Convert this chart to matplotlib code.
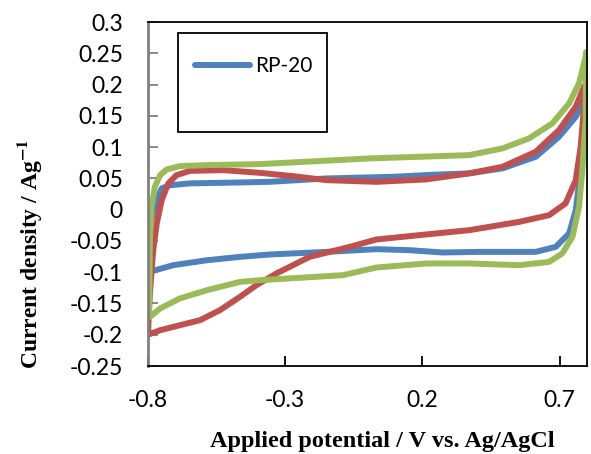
import numpy as np
import matplotlib.pyplot as plt
from matplotlib.lines import Line2D
from matplotlib.patches import Rectangle

# CV loops: anodic sweep then cathodic sweep back
rp20_v = [-0.80, -0.797, -0.79, -0.775, -0.763, -0.75, -0.72, -0.647, -0.465, -0.356, -0.15, 0.092, 0.25, 0.371, 0.492, 0.613, 0.698, 0.759, 0.789, 0.797,
          0.795, 0.777, 0.759, 0.735, 0.686, 0.613, 0.407, 0.274, 0.153, 0.032, -0.15, -0.356, -0.465, -0.587, -0.708, -0.775, -0.80]
rp20_i = [-0.10, -0.06, -0.02, 0.005, 0.0205, 0.034, 0.039, 0.042, 0.0435, 0.0445, 0.0499, 0.0525, 0.056, 0.058, 0.066, 0.0845, 0.1165, 0.1485, 0.1752, 0.18,
          0.143, 0.0632, -0.0008, -0.038, -0.0595, -0.0675, -0.0675, -0.0685, -0.0648, -0.0632, -0.0675, -0.0717, -0.0755, -0.081, -0.0888, -0.097, -0.10]

rp_red_v = [-0.80, -0.797, -0.793, -0.781, -0.768, -0.75, -0.726, -0.696, -0.647, -0.526, -0.393, -0.272, -0.15, 0.032, 0.213, 0.371, 0.492, 0.613, 0.698, 0.759, 0.789, 0.796,
            0.789, 0.777, 0.759, 0.722, 0.662, 0.553, 0.371, 0.213, 0.032, -0.065, -0.211, -0.332, -0.405, -0.465, -0.538, -0.611, -0.684, -0.756, -0.80]
rp_red_i = [-0.20, -0.17, -0.134, -0.065, -0.022, 0.0152, 0.042, 0.0552, 0.062, 0.0632, 0.0589, 0.0536, 0.0472, 0.0445, 0.0483, 0.058, 0.0685, 0.0925, 0.1272, 0.1645, 0.1965, 0.20,
            0.1645, 0.1005, 0.0472, 0.01, -0.0088, -0.0195, -0.0328, -0.0397, -0.0477, -0.0595, -0.0755, -0.102, -0.1208, -0.1395, -0.1608, -0.1768, -0.1848, -0.1928, -0.20]

rp_green_v = [-0.796, -0.795, -0.793, -0.787, -0.775, -0.756, -0.732, -0.684, -0.587, -0.393, 0.007, 0.371, 0.492, 0.589, 0.674, 0.735, 0.771, 0.795, 0.797,
              0.795, 0.783, 0.771, 0.747, 0.71, 0.662, 0.553, 0.371, 0.213, 0.032, -0.09, -0.393, -0.465, -0.587, -0.684, -0.756, -0.793, -0.796]
rp_green_i = [-0.16, -0.129, -0.049, 0.0045, 0.0365, 0.0552, 0.0643, 0.0696, 0.0712, 0.0728, 0.0819, 0.0872, 0.0979, 0.114, 0.138, 0.170, 0.2019, 0.2445, 0.252,
              0.1432, 0.0632, 0.0045, -0.0435, -0.070, -0.0835, -0.0888, -0.086, -0.0861, -0.0925, -0.1048, -0.1128, -0.1155, -0.129, -0.142, -0.158, -0.1715, -0.16]

x_ticks = [-0.8, -0.3, 0.2, 0.7]
y_ticks = [0.3, 0.25, 0.2, 0.15, 0.1, 0.05, 0, -0.05, -0.1, -0.15, -0.2, -0.25]
y_labels = ['0.3', '0.25', '0.2', '0.15', '0.1', '0.05', '0', '-0.05', '-0.1', '-0.15', '-0.2', '-0.25']

plt.rcParams['mathtext.fontset'] = 'stix'

fig = plt.figure(figsize=(5.91, 4.54), dpi=100)
ax = fig.add_axes([0.2504, 0.1938, 0.7428, 0.7577])

lw = 4.3
for v, i, c in [(rp20_v, rp20_i, '#4F81BD'), (rp_red_v, rp_red_i, '#C0504D'), (rp_green_v, rp_green_i, '#9BBB59')]:
    ax.plot(v, i, color=c, lw=lw, solid_capstyle='round', solid_joinstyle='round')

ax.set_xlim(-0.8, 0.8)
ax.set_ylim(-0.25, 0.3)
ax.set_xticks(x_ticks)
ax.set_xticklabels([f'{v:.1f}' for v in x_ticks], fontfamily='Lato', fontsize=16.5)
ax.set_yticks(y_ticks)
ax.set_yticklabels(y_labels, fontfamily='Lato', fontsize=16.5)
ax.tick_params(axis='x', direction='in', length=7, width=1.3, pad=17, colors='black')
ax.tick_params(axis='y', direction='in', length=7, width=1.3, pad=18, color='#808080')

for s in ['top', 'right', 'bottom']:
    ax.spines[s].set_color('black')
    ax.spines[s].set_linewidth(1.3)
ax.spines['left'].set_color('#808080')
ax.spines['left'].set_linewidth(2)

ax.set_xlabel('Applied potential / V vs. Ag/AgCl', fontfamily='Liberation Serif',
              fontweight='bold', fontsize=17.5)
ax.xaxis.set_label_coords(0.534, -0.19)
ax.set_ylabel(r'Current density / Ag$^{\mathbf{-1}}$', fontfamily='Liberation Serif',
              fontweight='bold', fontsize=17)
ax.yaxis.set_label_coords(-0.237, 0.325)

# legend box drawn separately: it is much larger than its single entry
ax.add_patch(Rectangle((0.0683, 0.680), 0.3394, 0.288, transform=ax.transAxes,
                       fill=True, facecolor='white', edgecolor='black', lw=1.3, zorder=4))
handles = [Line2D([], [], color='#4F81BD', lw=lw, solid_capstyle='round')]
leg = ax.legend(handles, ['RP-20'], loc='center left', bbox_to_anchor=(0.107, 0.872),
                borderaxespad=0, borderpad=0, prop={'family': 'Lato', 'size': 15}, frameon=False,
                handlelength=2.65, handletextpad=0.25)
leg.set_zorder(5)

fig.savefig('out.png', dpi=100)
